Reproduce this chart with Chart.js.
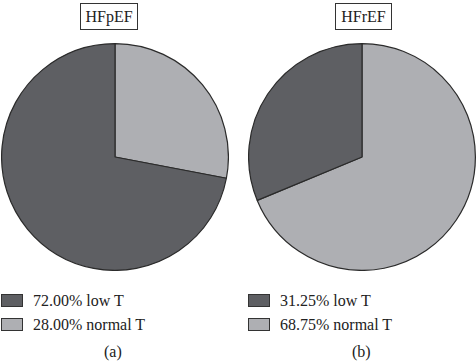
<!DOCTYPE html>
<html>
<head>
<meta charset="utf-8">
<script src="https://cdn.jsdelivr.net/npm/chart.js@4/dist/chart.umd.min.js"></script>
<style>
  body { margin: 0; background: #fff; font-family: "Liberation Serif", "DejaVu Serif", serif; color: #222; }
  #wrap { position: relative; width: 476px; height: 363px; overflow: hidden; }
  .pie { position: absolute; top: 43px; width: 228px; height: 228px; }
  .title { position: absolute; top: 3px; height: 27px; border: 1px solid #333; box-sizing: border-box;
           font-size: 16px; line-height: 25px; text-align: center; }
  .leg { position: absolute; font-size: 16px; }
  .row { height: 24px; line-height: 14px; white-space: nowrap; }
  .sw { display: inline-block; width: 22px; height: 13px; border: 1px solid #333; box-sizing: border-box;
        vertical-align: -1px; margin-right: 10px; }
  .cap { position: absolute; top: 343px; font-size: 16px; }
</style>
</head>
<body>
<div id="wrap">
  <div class="title" id="t0" style="left:80px;width:58px;"></div>
  <div class="title" id="t1" style="left:335px;width:57px;"></div>
  <div class="pie" style="left:1px;"><canvas id="c0"></canvas></div>
  <div class="pie" style="left:248px;"><canvas id="c1"></canvas></div>
  <div class="leg" id="l0" style="left:1px;top:294px;"></div>
  <div class="leg" id="l1" style="left:248px;top:294px;"></div>
  <div class="cap" id="p0" style="left:104px;"></div>
  <div class="cap" id="p1" style="left:352px;"></div>
</div>
<script>
// data
var groups = ["HFpEF", "HFrEF"];
var panels = ["(a)", "(b)"];
var categories = ["low T", "normal T"];
var lowT = [72.00, 31.25];
var normalT = [28.00, 68.75];
var colors = ["#5e5f63", "#aeafb3"];

function makePie(i) {
	var ctx = document.getElementById('c' + i).getContext('2d');
	// normal T goes first so it starts at 12 o'clock, clockwise
	return new Chart(ctx, {
		type: 'pie',
		data: {
			labels: [categories[1], categories[0]],
			datasets: [{
				data: [normalT[i], lowT[i]],
				backgroundColor: [colors[1], colors[0]],
				borderColor: '#2b2b2b',
				borderWidth: 1.2
			}]
		},
		options: {
			responsive: true,
			maintainAspectRatio: false,
			animation: false,
			layout: { padding: 0 },
			plugins: { legend: { display: false }, tooltip: { enabled: false } }
		}
	});
}

for (var i = 0; i < groups.length; i++) {
	makePie(i);
	document.getElementById('t' + i).textContent = groups[i];
	document.getElementById('p' + i).textContent = panels[i];
	var vals = [lowT[i], normalT[i]];
	var html = '';
	for (var k = 0; k < categories.length; k++) {
		html += '<div class="row"><span class="sw" style="background:' + colors[k] + '"></span>' +
			vals[k].toFixed(2) + '% ' + categories[k] + '</div>';
	}
	document.getElementById('l' + i).innerHTML = html;
}
</script>
</body>
</html>
